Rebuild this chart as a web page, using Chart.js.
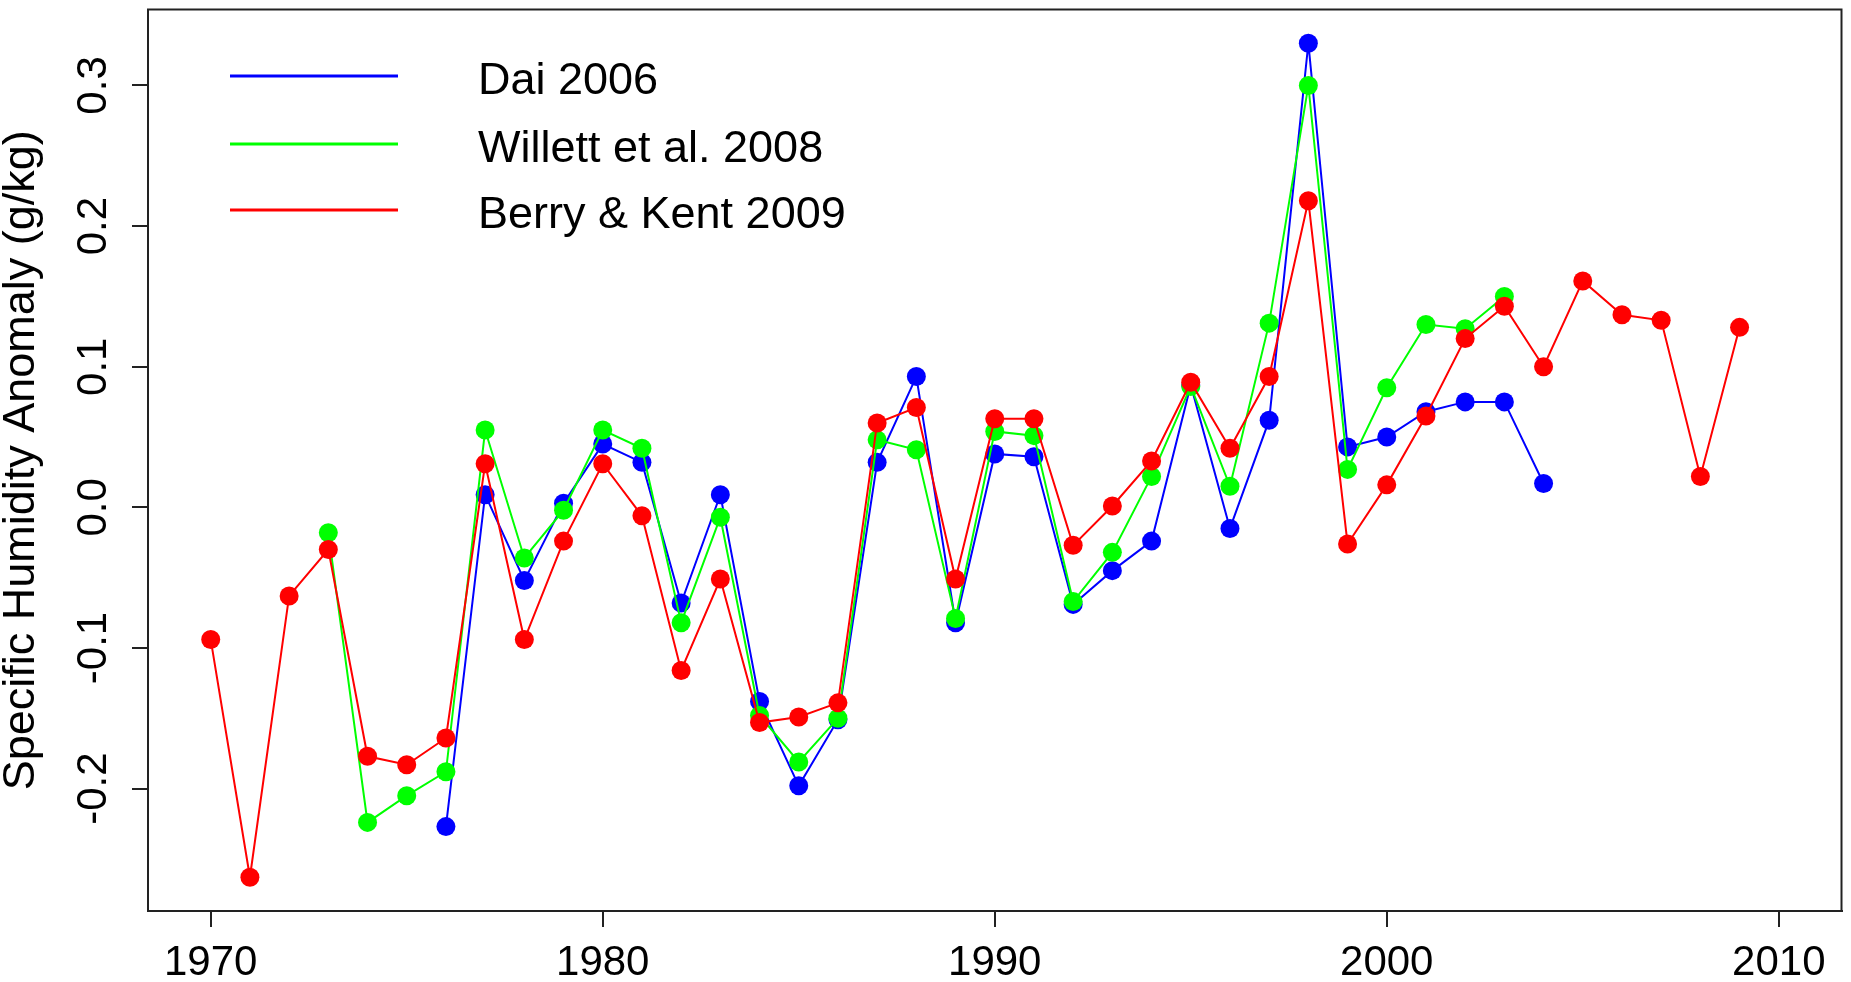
<!DOCTYPE html>
<html>
<head>
<meta charset="utf-8">
<script src="https://cdn.jsdelivr.net/npm/chart.js@4"></script>
<style>
  html, body { margin: 0; padding: 0; background: #fff; }
  canvas { display: block; }
</style>
</head>
<body>
<canvas id="humidity" width="1851" height="982"></canvas>
<script>
// specific humidity anomaly, three datasets

const daiYears = [1976, 1977, 1978, 1979, 1980, 1981, 1982, 1983, 1984, 1985, 1986, 1987, 1988, 1989, 1990,
  1991, 1992, 1993, 1994, 1995, 1996, 1997, 1998, 1999, 2000, 2001, 2002, 2003, 2004];
const daiValues = [-0.227, 0.009, -0.052, 0.003, 0.045, 0.032, -0.068, 0.009, -0.138, -0.198, -0.151, 0.032, 0.093, -0.082, 0.038,
  0.036, -0.069, -0.045, -0.024, 0.087, -0.015, 0.062, 0.330, 0.043, 0.050, 0.068, 0.075, 0.075, 0.017];

const willettYears = [1973, 1974, 1975, 1976, 1977, 1978, 1979, 1980, 1981, 1982, 1983, 1984, 1985, 1986, 1987,
  1988, 1989, 1990, 1991, 1992, 1993, 1994, 1995, 1996, 1997, 1998, 1999, 2000, 2001, 2002, 2003];
const willettValues = [-0.018, -0.224, -0.205, -0.188, 0.055, -0.036, -0.002, 0.055, 0.042, -0.082, -0.007, -0.148, -0.181, -0.150, 0.048,
  0.041, -0.079, 0.054, 0.051, -0.067, -0.032, 0.022, 0.086, 0.015, 0.131, 0.300, 0.027, 0.085, 0.130, 0.127, 0.150];

const berryYears = [1970, 1971, 1972, 1973, 1974, 1975, 1976, 1977, 1978, 1979, 1980, 1981, 1982, 1983, 1984,
  1985, 1986, 1987, 1988, 1989, 1990, 1991, 1992, 1993, 1994, 1995, 1996, 1997, 1998, 1999,
  2000, 2001, 2002, 2003, 2004, 2005, 2006, 2007, 2008, 2009];
const berryValues = [-0.094, -0.263, -0.063, -0.030, -0.177, -0.183, -0.164, 0.031, -0.094, -0.024, 0.031, -0.006, -0.116, -0.051, -0.153,
  -0.149, -0.139, 0.060, 0.071, -0.051, 0.063, 0.063, -0.027, 0.001, 0.033, 0.089, 0.042, 0.093, 0.218, -0.026,
  0.016, 0.065, 0.120, 0.143, 0.100, 0.161, 0.137, 0.133, 0.022, 0.128];

const xTicks = [1970, 1980, 1990, 2000, 2010];
const yTicks = [-0.2, -0.1, 0.0, 0.1, 0.2, 0.3];
const yTitle = 'Specific Humidity Anomaly (g/kg)';

const FONT = "'Liberation Sans', Arial, sans-serif";
const INK = '#222';

function points(years, values) {
  return years.map((yr, i) => ({ x: yr, y: values[i] }));
}

function series(label, years, values, color, order) {
  return {
    label: label,
    data: points(years, values),
    borderColor: color,
    backgroundColor: color,
    borderWidth: 2,
    pointRadius: 9.5,
    pointBorderWidth: 0,
    pointBackgroundColor: color,
    tension: 0,
    order: order
  };
}

// box, rotated y labels, y title and the legend (R style)
const rStyle = {
  id: 'rStyle',
  afterDraw(chart) {
    const ctx = chart.ctx;
    const area = chart.chartArea;
    const yScale = chart.scales.y;
    ctx.save();
    ctx.strokeStyle = INK;
    ctx.lineWidth = 2;
    ctx.strokeRect(area.left, area.top, area.right - area.left, area.bottom - area.top);

    ctx.fillStyle = '#000';
    ctx.font = '42px ' + FONT;
    ctx.textAlign = 'center';
    ctx.textBaseline = 'alphabetic';
    yTicks.forEach(v => {
      const py = yScale.getPixelForValue(v);
      ctx.save();
      ctx.translate(106, py);
      ctx.rotate(-Math.PI / 2);
      ctx.fillText(v.toFixed(1), 0, 0);
      ctx.restore();
    });

    ctx.font = '45px ' + FONT;
    ctx.save();
    ctx.translate(34, (area.top + area.bottom) / 2);
    ctx.rotate(-Math.PI / 2);
    ctx.fillText(yTitle, 0, 0);
    ctx.restore();

    // legend
    const rows = [76, 144, 210];
    ctx.textAlign = 'left';
    chart.data.datasets.forEach((ds, i) => {
      ctx.strokeStyle = ds.borderColor;
      ctx.lineWidth = 3;
      ctx.beginPath();
      ctx.moveTo(230, rows[i]);
      ctx.lineTo(398, rows[i]);
      ctx.stroke();
      ctx.fillText(ds.label, 478, rows[i] + 18);
    });
    ctx.restore();
  }
};

new Chart(
  document.getElementById('humidity'),
  {
    type: 'line',
    data: {
      datasets: [
        series('Dai 2006', daiYears, daiValues, '#0000ff', 2),
        series('Willett et al. 2008', willettYears, willettValues, '#00ff00', 1),
        series('Berry & Kent 2009', berryYears, berryValues, '#ff0000', 0)
      ]
    },
    options: {
      responsive: false,
      animation: false,
      layout: { padding: { top: 9, right: 7, left: 0, bottom: 0 } },
      plugins: {
        legend: { display: false },
        tooltip: { enabled: false }
      },
      scales: {
        x: {
          type: 'linear',
          min: 1968.4,
          max: 2011.6,
          afterBuildTicks: s => { s.ticks = xTicks.map(v => ({ value: v })); },
          afterFit: s => { s.height = 71; },
          grid: { drawOnChartArea: false, drawTicks: true, tickLength: 16, color: INK, lineWidth: 2 },
          border: { display: true, color: INK, width: 2 },
          ticks: {
            color: '#000',
            font: { family: FONT, size: 42 },
            padding: 11,
            maxRotation: 0,
            callback: v => String(v)
          }
        },
        y: {
          type: 'linear',
          min: -0.287,
          max: 0.354,
          afterBuildTicks: s => { s.ticks = yTicks.map(v => ({ value: v })); },
          afterFit: s => { s.width = 148; },
          grid: { drawOnChartArea: false, drawTicks: true, tickLength: 16, color: INK, lineWidth: 2 },
          border: { display: true, color: INK, width: 2 },
          ticks: { display: false }
        }
      }
    },
    plugins: [rStyle]
  }
);
</script>
</body>
</html>
